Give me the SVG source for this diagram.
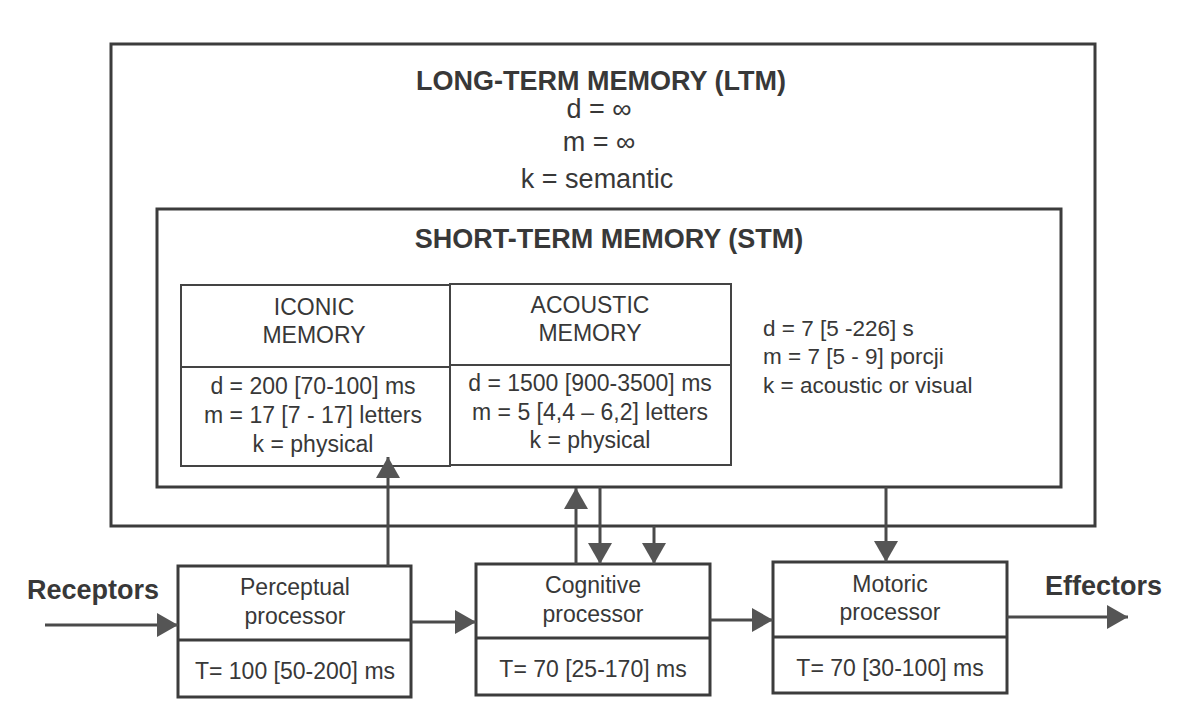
<svg xmlns="http://www.w3.org/2000/svg" width="1179" height="722" viewBox="0 0 1179 722">
<style>
.box{fill:none;stroke:#3c3c3c;stroke-width:3}
.pbox{fill:#fff;stroke:#3c3c3c;stroke-width:3}
.thin{fill:none;stroke:#444;stroke-width:2}
.con{fill:none;stroke:#4a4a4a;stroke-width:3}
text{font-family:"Liberation Sans",Arial,sans-serif;fill:#383838}
.h{font-weight:bold;font-size:27px;text-anchor:middle}
.big{font-size:27px;text-anchor:middle}
.t{font-size:23px;text-anchor:middle}
.l{font-size:22.5px}
.lab{font-weight:bold;font-size:27px}
</style>
<defs>
<marker id="ah" markerUnits="userSpaceOnUse" markerWidth="22" markerHeight="24" refX="21" refY="12" orient="auto">
<path d="M0,0 L21,12 L0,24 Z" fill="#555"/>
</marker>
</defs>
<rect width="1179" height="722" fill="#fff"/>
<g id="ltm">
<rect class="box" x="111" y="44" width="984" height="482"/>
<text class="h" x="601" y="90">LONG-TERM MEMORY (LTM)</text>
<text class="big" x="599" y="118">d = ∞</text>
<text class="big" x="599" y="151">m = ∞</text>
<text class="big" x="597" y="188">k = semantic</text>
</g>
<g id="stm">
<rect class="box" x="157" y="209" width="904" height="278"/>
<text class="h" x="609" y="248">SHORT-TERM MEMORY (STM)</text>
<text class="l" x="763" y="336">d = 7 [5 -226] s</text>
<text class="l" x="763" y="364">m = 7 [5 - 9] porcji</text>
<text class="l" x="763" y="393">k = acoustic or visual</text>
</g>
<g id="iconic">
<rect class="thin" x="181" y="285" width="269" height="181"/>
<line class="thin" x1="181" y1="367" x2="450" y2="367"/>
<text class="t" x="314" y="315">ICONIC</text>
<text class="t" x="314" y="343">MEMORY</text>
<text class="t" x="313" y="394">d = 200 [70-100] ms</text>
<text class="t" x="313" y="423">m = 17 [7 - 17] letters</text>
<text class="t" x="313" y="452">k = physical</text>
</g>
<g id="acoustic">
<rect class="thin" x="450" y="284" width="281" height="181"/>
<line class="thin" x1="450" y1="365" x2="731" y2="365"/>
<text class="t" x="590" y="313">ACOUSTIC</text>
<text class="t" x="590" y="341">MEMORY</text>
<text class="t" x="590" y="391">d = 1500 [900-3500] ms</text>
<text class="t" x="590" y="420">m = 5 [4,4 – 6,2] letters</text>
<text class="t" x="590" y="448">k = physical</text>
</g>
<g id="perceptual">
<rect class="pbox" x="178" y="566" width="233" height="131"/>
<line class="box" x1="178" y1="640" x2="411" y2="640"/>
<text class="t" x="295" y="595">Perceptual</text>
<text class="t" x="295" y="624">processor</text>
<text class="t" x="295" y="679">T= 100 [50-200] ms</text>
</g>
<g id="cognitive">
<rect class="pbox" x="476" y="564" width="234" height="131"/>
<line class="box" x1="476" y1="638" x2="710" y2="638"/>
<text class="t" x="593" y="593">Cognitive</text>
<text class="t" x="593" y="622">processor</text>
<text class="t" x="593" y="677">T= 70 [25-170] ms</text>
</g>
<g id="motoric">
<rect class="pbox" x="773" y="562" width="234" height="131"/>
<line class="box" x1="773" y1="637" x2="1007" y2="637"/>
<text class="t" x="890" y="592">Motoric</text>
<text class="t" x="890" y="620">processor</text>
<text class="t" x="890" y="676">T= 70 [30-100] ms</text>
</g>
<g id="receptors"><text class="lab" x="27" y="599">Receptors</text></g>
<g id="effectors"><text class="lab" x="1045" y="595">Effectors</text></g>
<g id="connectors">
<line class="con" x1="45" y1="625" x2="178" y2="625" marker-end="url(#ah)"/>
<line class="con" x1="411" y1="622" x2="476" y2="622" marker-end="url(#ah)"/>
<line class="con" x1="710" y1="620" x2="773" y2="620" marker-end="url(#ah)"/>
<line class="con" x1="1007" y1="617" x2="1128" y2="617" marker-end="url(#ah)"/>
<line class="con" x1="388" y1="566" x2="388" y2="457" marker-end="url(#ah)"/>
<line class="con" x1="576" y1="564" x2="576" y2="488" marker-end="url(#ah)"/>
<line class="con" x1="600" y1="487" x2="600" y2="564" marker-end="url(#ah)"/>
<line class="con" x1="654" y1="526" x2="654" y2="564" marker-end="url(#ah)"/>
<line class="con" x1="886" y1="487" x2="886" y2="562" marker-end="url(#ah)"/>
</g>
</svg>
